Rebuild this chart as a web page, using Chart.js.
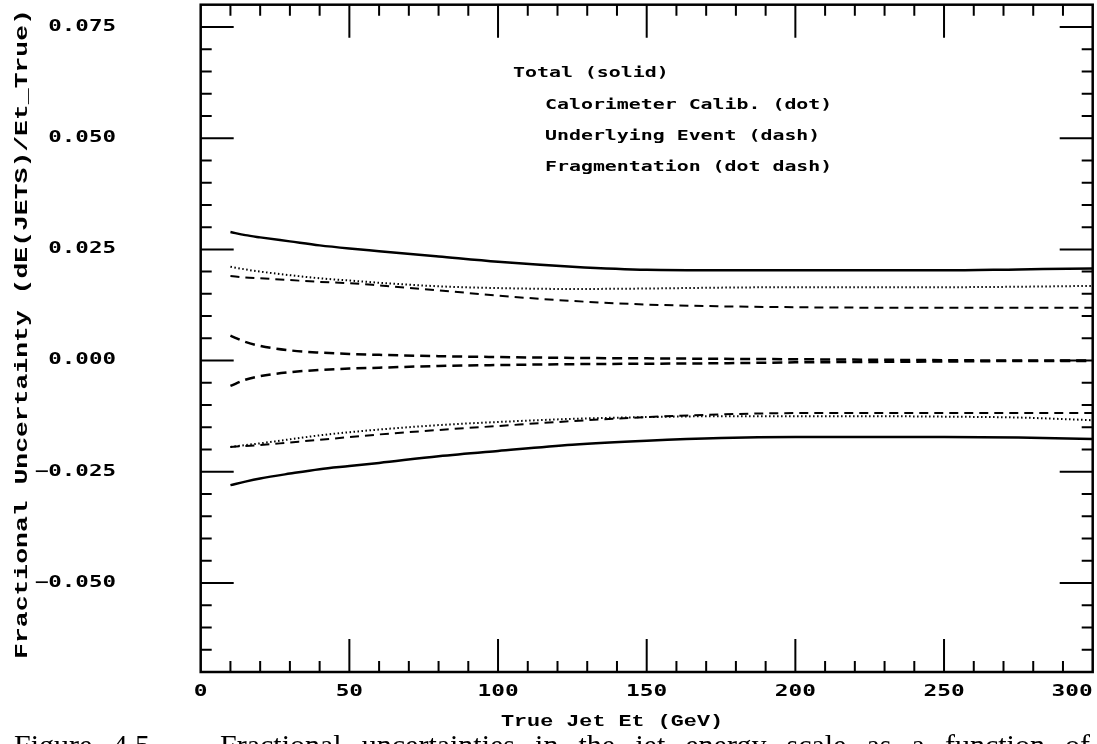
<!DOCTYPE html>
<html>
<head>
<meta charset="utf-8">
<script src="https://cdn.jsdelivr.net/npm/chart.js@4.4.1/dist/chart.umd.min.js"></script>
<style>
  html, body { margin: 0; padding: 0; background: #fff; }
  canvas { display: block; }
</style>
</head>
<body>
<canvas id="chart" width="1097" height="744"></canvas>
<script>
// valores
const jetEt = [10, 15, 20, 30, 40, 50, 60, 80, 100, 125, 150, 175, 200, 225, 250, 275, 300];

const totalUp  = [0.0289, 0.0282, 0.0277, 0.0268, 0.0259, 0.0252, 0.0246, 0.0234, 0.0222, 0.0211, 0.0204, 0.0203, 0.0203, 0.0203, 0.0203, 0.0205, 0.0207];
const totalLow = [-0.0280, -0.0272, -0.0265, -0.0254, -0.0244, -0.0237, -0.0230, -0.0215, -0.0203, -0.0189, -0.0180, -0.0174, -0.0172, -0.0172, -0.0172, -0.0173, -0.0176];

const calUp  = [0.0211, 0.0205, 0.0200, 0.0192, 0.0185, 0.0180, 0.0175, 0.0167, 0.0163, 0.0161, 0.0162, 0.0164, 0.0165, 0.0165, 0.0165, 0.0166, 0.0168];
const calLow = [-0.0194, -0.0190, -0.0186, -0.0177, -0.0168, -0.0161, -0.0155, -0.0145, -0.0138, -0.0131, -0.0127, -0.0125, -0.0125, -0.0125, -0.0126, -0.0128, -0.0134];

const ueUp  = [0.0190, 0.0187, 0.0185, 0.0181, 0.0177, 0.0174, 0.0169, 0.0158, 0.0146, 0.0134, 0.0126, 0.0122, 0.0120, 0.0119, 0.0119, 0.0119, 0.0119];
const ueLow = [-0.0194, -0.0192, -0.0190, -0.0184, -0.0178, -0.0172, -0.0166, -0.0156, -0.0147, -0.0136, -0.0127, -0.0121, -0.0118, -0.0118, -0.0118, -0.0118, -0.0118];

const fragUp  = [0.0056, 0.0042, 0.0033, 0.0023, 0.0018, 0.0015, 0.0013, 0.0010, 0.0008, 0.0006, 0.0005, 0.0004, 0.0003, 0.0002, 0.0001, 0.0000, 0.0000];
const fragLow = [-0.0057, -0.0043, -0.0035, -0.0026, -0.0021, -0.0018, -0.0016, -0.0012, -0.0010, -0.0008, -0.0007, -0.0006, -0.0004, -0.0003, -0.0002, -0.0001, -0.0001];

const xTickLabels = ['0', '50', '100', '150', '200', '250', '300'];
const yTickLabels = ['\u22120.050', '\u22120.025', '0.000', '0.025', '0.050', '0.075'];
const legendLines = ['Total (solid)', 'Calorimeter Calib. (dot)', 'Underlying Event (dash)', 'Fragmentation (dot dash)'];

const xTitle = 'True Jet Et (GeV)';
const yTitle = 'Fractional Uncertainty (dE(JETS)/Et_True)';
const caption = ['Figure', '4.5', '\u2014', 'Fractional', 'uncertainties', 'in', 'the', 'jet', 'energy', 'scale', 'as', 'a', 'function', 'of'];

function pts(ys) {
    return jetEt.map((x, i) => ({ x: x, y: ys[i] }));
}

function serie(ys, dash, width) {
    return {
        data: pts(ys),
        borderColor: '#000',
        borderWidth: width,
        borderDash: dash,
        pointRadius: 0,
        fill: false,
        cubicInterpolationMode: 'monotone'
    };
}

// texto esticado na horizontal
function texto(ctx, s, x, y, font, sx, align) {
    ctx.save();
    ctx.font = font;
    ctx.translate(x, y);
    ctx.scale(sx, 1);
    ctx.textAlign = align;
    ctx.textBaseline = 'middle';
    ctx.fillText(s, 0, 0);
    ctx.restore();
}

const moldura = {
    id: 'moldura',
    afterDatasetsDraw(chart) {
        const ctx = chart.ctx;
        const a = chart.chartArea;
        const xs = chart.scales.x;
        const ys = chart.scales.y;
        ctx.save();
        ctx.fillStyle = '#000';
        ctx.strokeStyle = '#000';

        // caixa
        ctx.lineWidth = 2.5;
        ctx.strokeRect(a.left, a.top, a.right - a.left, a.bottom - a.top);

        // ticks x (para dentro, em cima e em baixo)
        ctx.lineWidth = 2;
        for (let v = 10; v < 300; v += 10) {
            const px = xs.getPixelForValue(v);
            const len = v % 50 === 0 ? 33 : 11;
            ctx.beginPath();
            ctx.moveTo(px, a.bottom); ctx.lineTo(px, a.bottom - len);
            ctx.moveTo(px, a.top); ctx.lineTo(px, a.top + len);
            ctx.stroke();
        }
        // ticks y
        for (let k = -13; k <= 15; k++) {
            const py = ys.getPixelForValue(k * 0.005);
            const len = k % 5 === 0 ? 33 : 11;
            ctx.beginPath();
            ctx.moveTo(a.left, py); ctx.lineTo(a.left + len, py);
            ctx.moveTo(a.right, py); ctx.lineTo(a.right - len, py);
            ctx.stroke();
        }

        const numFont = 'bold 15px "DejaVu Sans Mono"';
        xTickLabels.forEach((t, i) => {
            let px = xs.getPixelForValue(i * 50);
            let align = 'center';
            if (i === xTickLabels.length - 1) { px = a.right; align = 'right'; }
            texto(ctx, t, px, 692, numFont, 1.52, align);
        });
        yTickLabels.forEach((t, i) => {
            const py = ys.getPixelForValue(-0.05 + i * 0.025);
            texto(ctx, t, 116, py, numFont, 1.5, 'right');
        });

        // legenda em texto
        const legFont = 'bold 14px "DejaVu Sans Mono"';
        texto(ctx, legendLines[0], 513, 73, legFont, 1.42, 'left');
        texto(ctx, legendLines[1], 545, 105, legFont, 1.42, 'left');
        texto(ctx, legendLines[2], 545, 136, legFont, 1.42, 'left');
        texto(ctx, legendLines[3], 545, 167, legFont, 1.42, 'left');

        // títulos dos eixos
        texto(ctx, xTitle, 612, 722, 'bold 17px "Liberation Mono"', 1.28, 'center');
        ctx.save();
        ctx.translate(22, 334);
        ctx.rotate(-Math.PI / 2);
        texto(ctx, yTitle, 0, 0, 'bold 19px "Liberation Mono"', 1.39, 'center');
        ctx.restore();

        // legenda da figura, cortada na margem inferior (justificada)
        ctx.font = '30px "Liberation Serif"';
        ctx.textAlign = 'left';
        ctx.textBaseline = 'alphabetic';
        const larg = caption.map(w => ctx.measureText(w).width);
        const soma = larg.reduce((s, w) => s + w, 0);
        const gap = (1090 - 14 - soma) / (caption.length - 1);
        let cx = 14;
        caption.forEach((w, i) => {
            ctx.fillText(w, cx, 755);
            cx += larg[i] + gap;
        });
        ctx.restore();
    }
};

new Chart(document.getElementById('chart').getContext('2d'), {
    type: 'line',
    data: {
        datasets: [
            serie(totalUp, [], 2.5),
            serie(totalLow, [], 2.5),
            serie(calUp, [1.5, 2.5], 2),
            serie(calLow, [1.5, 2.5], 2),
            serie(ueUp, [9, 6], 2),
            serie(ueLow, [9, 6], 2),
            serie(fragUp, [10, 6], 2.5),
            serie(fragLow, [10, 6], 2.5)
        ]
    },
    options: {
        responsive: false,
        animation: false,
        devicePixelRatio: 1,
        layout: { padding: { left: 200.7, top: 4.7, right: 4.3, bottom: 72 } },
        plugins: { legend: { display: false }, tooltip: { enabled: false } },
        scales: {
            x: { type: 'linear', min: 0, max: 300, display: false },
            y: { type: 'linear', min: -0.07, max: 0.08, display: false }
        }
    },
    plugins: [moldura]
});
</script>
</body>
</html>
